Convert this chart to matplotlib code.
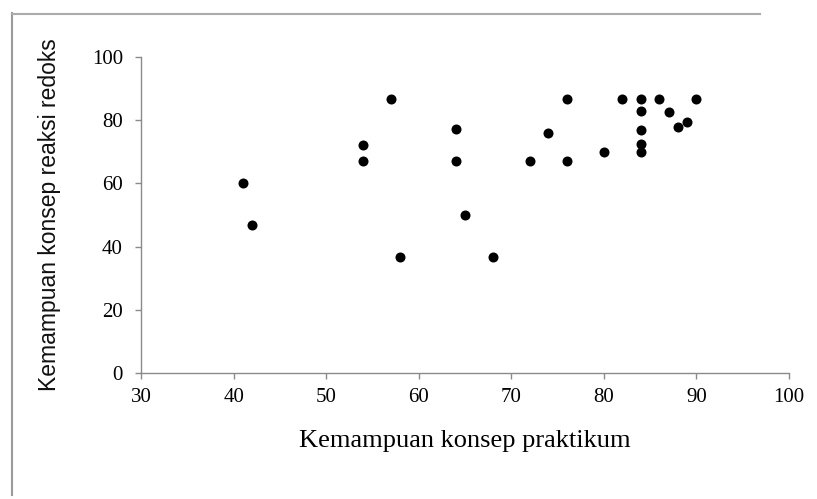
import matplotlib
matplotlib.use("Agg")
import matplotlib.pyplot as plt
from matplotlib.lines import Line2D

# Scores per student: practical concept ability vs. redox concept ability
praktikum = [41, 42, 54, 54, 57, 58, 64, 64, 65, 68, 72, 74, 76, 76, 80,
             82, 84, 84, 84, 84, 84, 86, 87, 88, 89, 90]
redoks = [60, 46.7, 72, 67, 86.7, 36.7, 77.3, 67, 50, 36.7, 67, 76, 86.7, 67, 70,
          86.7, 86.7, 83, 77, 72.5, 70, 86.7, 82.5, 78, 79.5, 86.7]

x_ticks = [30, 40, 50, 60, 70, 80, 90, 100]
y_ticks = [0, 20, 40, 60, 80, 100]

fig = plt.figure(figsize=(8.17, 4.99), dpi=100)
ax = fig.add_axes([0.1726, 0.2525, 0.7931, 0.6333])

ax.scatter(praktikum, redoks, s=52, color="black", zorder=3, linewidths=0)

ax.set_xlim(30, 100)
ax.set_ylim(0, 100)
ax.set_xticks(x_ticks)
ax.set_yticks(y_ticks)

for side in ("top", "right"):
    ax.spines[side].set_visible(False)
for side in ("left", "bottom"):
    ax.spines[side].set_color("#8a8a8a")
    ax.spines[side].set_linewidth(1.0)

ax.tick_params(direction="out", length=4, width=1.0, color="#8a8a8a",
               labelsize=15)
for lab in ax.get_xticklabels() + ax.get_yticklabels():
    lab.set_family("Liberation Serif")
    lab.set_color("black")
ax.tick_params(axis="x", pad=7)
ax.tick_params(axis="y", pad=9)

ax.set_xlabel("Kemampuan konsep praktikum", family="Liberation Serif",
              fontsize=19, color="black", labelpad=16)
ax.set_ylabel("Kemampuan konsep reaksi redoks", family="Liberation Sans",
              fontsize=16.5, color="#111111", labelpad=22)

# Outer frame lines of the figure panel
fig.add_artist(Line2D([12 / 817, 12 / 817], [1 - 495 / 499, 1 - 13 / 499],
                      transform=fig.transFigure, color="#9a9a9a", lw=1.5))
fig.add_artist(Line2D([12 / 817, 760 / 817], [1 - 14 / 499, 1 - 14 / 499],
                      transform=fig.transFigure, color="#aaaaaa", lw=1.5))

fig.savefig("out.png", dpi=100, facecolor="white")
